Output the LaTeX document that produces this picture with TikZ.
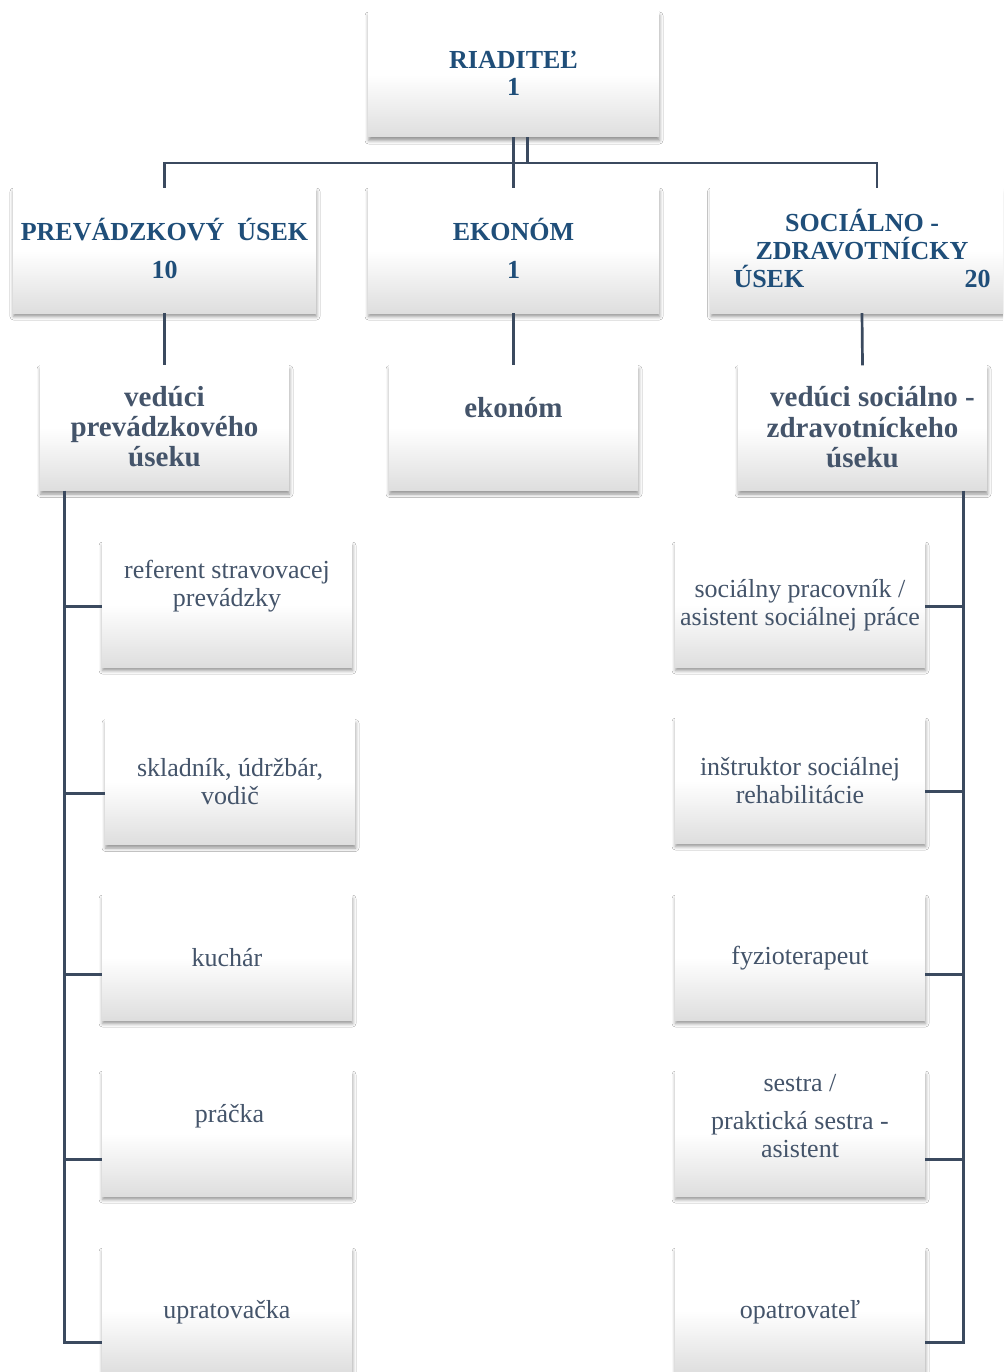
\documentclass[tikz,border=0pt]{standalone}
\usepackage{fontspec}
\setmainfont{Liberation Serif}
\usetikzlibrary{shadows.blur,calc}
\definecolor{hdblue}{HTML}{1F4E79}
\definecolor{slate}{HTML}{44546A}
\definecolor{linec}{HTML}{3B4A5F}
\tikzset{
  box/.style={rectangle, inner sep=0pt, minimum width=#1, minimum height=125pt,
    top color=white, bottom color=black!13, middle color=white,
    blur shadow={shadow xshift=0.5pt, shadow yshift=-3.5pt, shadow blur radius=3.5pt, shadow opacity=42}},
  conn/.style={draw=linec, line width=2.7pt},
  hd/.style={inner sep=0pt, align=center, text=hdblue, font=\bfseries\fontsize{26}{#1}\selectfont},
  md/.style={inner sep=0pt, align=center, text=slate, font=\bfseries\fontsize{29}{#1}\selectfont},
  lt/.style={inner sep=0pt, align=center, text=slate, font=\fontsize{26}{28}\selectfont},
}
\begin{document}
\begin{tikzpicture}[x=1pt,y=-1pt]
\useasboundingbox (0,0) rectangle (1003,1372);
\clip (0,0) rectangle (1003,1372);
\fill[white] (0,0) rectangle (1003,1372);
% boxes
\node[box=291pt] (riad) at (513.5,74.5) {};
\node[box=303pt] (prev) at (164.5,250.5) {};
\node[box=291pt] (ekon) at (513.5,250.5) {};
\node[box=303pt] (soc) at (862,250.5) {};
\node[box=249pt] (vprev) at (164.5,428) {};
\node[box=249pt] (ekn) at (513.5,428) {};
\node[box=249pt] (vsoc) at (862.5,428) {};
\node[box=250pt] (ref) at (227,604.5) {};
\node[box=250pt] (skl) at (230,782) {};
\node[box=250pt] (kuch) at (227,957.5) {};
\node[box=250pt] (prac) at (227,1133.5) {};
\node[box=250pt] (upr) at (227,1310.5) {};
\node[box=250pt] (soci) at (800,604.5) {};
\node[box=250pt] (inst) at (800,780.5) {};
\node[box=250pt] (fyz) at (800,957.5) {};
\node[box=250pt] (ses) at (800,1133.5) {};
\node[box=250pt] (opat) at (800,1310.5) {};
% texts
\node[hd=27] at ($(riad.center)+(0,-1)$) {RIADITEĽ\\1};
\node[hd=38] at ($(prev.center)+(0,-2)$) {PREVÁDZKOVÝ\ \ ÚSEK\\10};
\node[hd=38] at ($(ekon.center)+(0,-2)$) {EKONÓM\\1};
\node[hd=28] at ($(soc.center)+(0,-2)$) {SOCIÁLNO -\\ZDRAVOTNÍCKY\\\makebox[257pt]{ÚSEK\hfill 20}};
\node[md=30] at ($(vprev.center)+(0,-1)$) {vedúci\\prevádzkového\\úseku};
\node[md=30] at ($(ekn.center)+(0,-20)$) {ekonóm};
\node[md=30.5] at ($(vsoc.center)+(0,-0.5)$) {\hspace*{20pt}vedúci sociálno -\\zdravotníckeho\\úseku};
\node[lt] at ($(ref.center)+(0,-18.5)$) {referent stravovacej\\prevádzky};
\node[lt] at ($(skl.center)+(0,0)$) {skladník, údržbár,\\vodič};
\node[lt] at ($(kuch.center)+(0,0)$) {kuchár};
\node[lt] at ($(prac.center)+(2.5,-17.5)$) {práčka};
\node[lt] at ($(upr.center)+(0,1.5)$) {upratovačka};
\node[lt] at ($(soci.center)+(0,0.5)$) {sociálny pracovník /\\asistent sociálnej práce};
\node[lt] at ($(inst.center)+(0,0.5)$) {inštruktor sociálnej\\rehabilitácie};
\node[lt] at ($(fyz.center)+(0,1)$) {fyzioterapeut};
\node[lt] at ($(ses.center)+(0,-17.5)$) {sestra /\\[10pt]praktická sestra -\\asistent};
\node[lt] at ($(opat.center)+(0,1.5)$) {opatrovateľ};
% connectors
\coordinate (hub) at (513.5,163);
\coordinate (socin) at ([xshift=15pt]soc.north);
\draw[conn] (prev.north) -- (prev.north |- hub) -- (hub -| socin) -- (socin);
\draw[conn] (riad.south) -- (ekon.north);
\draw[conn] ([xshift=14pt]riad.south) -- ([xshift=14pt]riad.south |- hub) -- (hub);
\draw[conn] (prev.south) -- (vprev.north);
\draw[conn] (ekon.south) -- (ekn.north);
\draw[conn] (soc.south) -- (vsoc.north);
% left spine
\coordinate (lsp) at ([xshift=25pt]vprev.south west);
\coordinate (bL1) at ([yshift=-65pt]ref.north west);
\coordinate (bL2) at ([yshift=-74pt]skl.north west);
\coordinate (bL3) at ([yshift=-80pt]kuch.north west);
\coordinate (bL4) at ([yshift=-89pt]prac.north west);
\coordinate (bL5) at ([yshift=-95pt]upr.north west);
\draw[conn] (lsp) -- (lsp |- bL5) -- (bL5);
\foreach \b in {bL1,bL2,bL3,bL4} \draw[conn] (lsp |- \b) -- (\b);
% right spine
\coordinate (rsp) at ([xshift=-24pt]vsoc.south east);
\coordinate (bR1) at ([yshift=-65pt]soci.north east);
\coordinate (bR2) at ([yshift=-74pt]inst.north east);
\coordinate (bR3) at ([yshift=-80pt]fyz.north east);
\coordinate (bR4) at ([yshift=-89pt]ses.north east);
\coordinate (bR5) at ([yshift=-95pt]opat.north east);
\draw[conn] (rsp) -- (rsp |- bR5) -- (bR5);
\foreach \b in {bR1,bR2,bR3,bR4} \draw[conn] (rsp |- \b) -- (\b);
\end{tikzpicture}
\end{document}
